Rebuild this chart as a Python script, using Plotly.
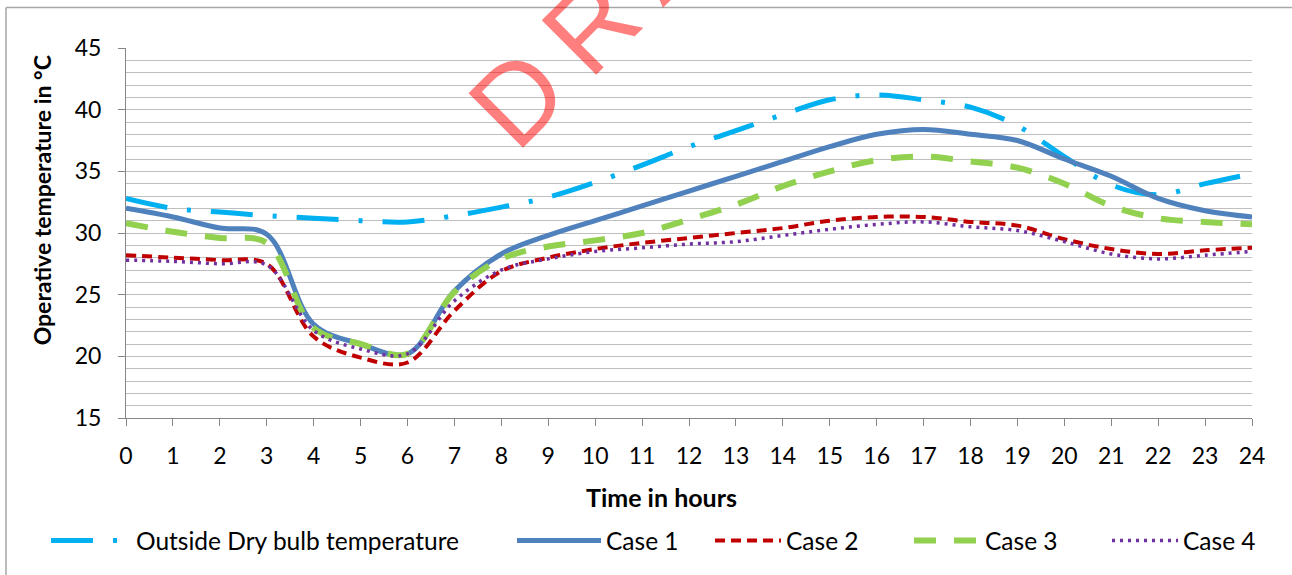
import plotly.graph_objects as go

hours = list(range(25))
outside = [32.8, 32.0, 31.7, 31.4, 31.2, 31.0, 30.9, 31.4, 32.1, 32.9, 34.1, 35.5, 37.0, 38.3, 39.6,
           40.8, 41.2, 40.8, 40.2, 38.7, 36.2, 33.9, 33.1, 34.0, 34.8]
case1 = [32.0, 31.3, 30.4, 29.9, 22.6, 21.0, 20.2, 25.3, 28.3, 29.8, 31.0, 32.2, 33.4, 34.6, 35.8,
         37.0, 38.0, 38.4, 38.0, 37.5, 36.0, 34.6, 32.8, 31.8, 31.3]
case2 = [28.2, 28.0, 27.8, 27.5, 21.6, 19.9, 19.5, 23.7, 26.9, 28.0, 28.7, 29.2, 29.6, 30.0, 30.4,
         31.0, 31.3, 31.3, 30.9, 30.6, 29.5, 28.7, 28.3, 28.6, 28.8]
case3 = [30.8, 30.1, 29.6, 29.2, 22.3, 21.0, 20.2, 25.2, 27.9, 28.9, 29.4, 30.0, 31.1, 32.3, 33.8,
         35.0, 35.9, 36.2, 35.8, 35.3, 34.0, 32.2, 31.2, 30.9, 30.7]
case4 = [27.8, 27.7, 27.5, 27.4, 22.1, 20.6, 20.2, 24.5, 27.0, 27.9, 28.5, 28.8, 29.1, 29.3, 29.8,
         30.3, 30.7, 30.9, 30.5, 30.2, 29.3, 28.3, 27.9, 28.2, 28.5]

names = ["Outside Dry bulb temperature", "Case 1", "Case 2", "Case 3", "Case 4"]
colors = ["#00B0F0", "#4F81BD", "#C00000", "#92D050", "#7030A0"]
widths = [5, 5, 4, 6, 3.5]
dashes = ["42px,20px,4px,20px", "solid", "10px,6px", "22px,18px", "3px,5px"]
series = [outside, case1, case2, case3, case4]
legend_ids = ["legend", "legend2", "legend3", "legend4", "legend5"]

FONT = "Lato, 'Open Sans', sans-serif"
W, H = 1292, 575
L, R, T, B = 126, 40, 48, 153
PW = W - L - R
PH = H - T - B


def px2x(px):
    return (px - L) / PW


def py2y(py):
    return (H - B - py) / PH


fig = go.Figure()
for i in range(5):
    fig.add_trace(go.Scatter(
        x=hours, y=series[i], name=names[i], mode="lines",
        line=dict(color=colors[i], width=widths[i], dash=dashes[i], shape="spline", smoothing=1.0),
        legend=legend_ids[i], showlegend=True,
    ))

# legend entries: text start pixel and symbol width
text_start_px = [137, 607, 787, 986, 1184]
item_w = [80, 84, 66, 66, 66]
legends = {}
for i, lid in enumerate(legend_ids):
    legends[lid] = dict(x=px2x(text_start_px[i] - item_w[i] - 11), y=py2y(546),
                        orientation="h", xanchor="left", yanchor="middle",
                        font=dict(family=FONT, size=24.5, color="#000000"),
                        bgcolor="rgba(0,0,0,0)", borderwidth=0, itemwidth=item_w[i])

fig.update_layout(
    width=W, height=H,
    margin=dict(l=L, r=R, t=T, b=B, pad=0),
    paper_bgcolor="white", plot_bgcolor="white",
    font=dict(family=FONT, size=23, color="#000000"),
    xaxis=dict(range=[0, 24], tickmode="linear", tick0=0, dtick=1,
               showgrid=False, zeroline=False,
               showline=True, linecolor="#868686", linewidth=1,
               ticks="outside", ticklen=7, tickcolor="#868686",
               ticklabelstandoff=10,
               tickfont=dict(family=FONT, size=23, color="#000000")),
    yaxis=dict(range=[15, 45], tickmode="linear", tick0=15, dtick=5,
               showgrid=True, gridcolor="#BFBFBF", gridwidth=1, zeroline=False,
               showline=True, linecolor="#868686", linewidth=1,
               ticks="outside", ticklen=7, tickcolor="#868686",
               ticklabelstandoff=12,
               minor=dict(dtick=1, showgrid=True, gridcolor="#BFBFBF", gridwidth=1, ticks=""),
               tickfont=dict(family=FONT, size=23, color="#000000")),
    showlegend=True,
    **legends,
)

# axis titles
fig.add_annotation(text="<b>Operative temperature in °C</b>", xref="paper", yref="paper",
                   x=px2x(42), y=py2y(202), textangle=-90, showarrow=False,
                   xanchor="center", yanchor="middle",
                   font=dict(family=FONT, size=23, color="#000000"))
fig.add_annotation(text="<b>Time in hours</b>", xref="paper", yref="paper",
                   x=px2x(661), y=py2y(502), showarrow=False,
                   xanchor="center", yanchor="middle",
                   font=dict(family=FONT, size=25, color="#000000"))

# watermark (wide letter spacing via thin spaces)
sp = "\u2009"
fig.add_annotation(text=sp.join("DRAFT"), xref="paper", yref="paper",
                   x=px2x(653), y=py2y(-37), textangle=-45, showarrow=False,
                   xanchor="center", yanchor="middle",
                   font=dict(family="Liberation Sans, Arial, sans-serif", size=112,
                             color="rgba(255,0,0,0.5)"))

# chart area frame (left and top edges)
fig.add_shape(type="line", xref="paper", yref="paper",
              x0=px2x(6), x1=px2x(6), y0=py2y(7), y1=py2y(600),
              line=dict(color="#A6A6A6", width=1.5))
fig.add_shape(type="line", xref="paper", yref="paper",
              x0=px2x(6), x1=px2x(1310), y0=py2y(7), y1=py2y(7),
              line=dict(color="#A6A6A6", width=1.5))

fig.write_html("out.html")
